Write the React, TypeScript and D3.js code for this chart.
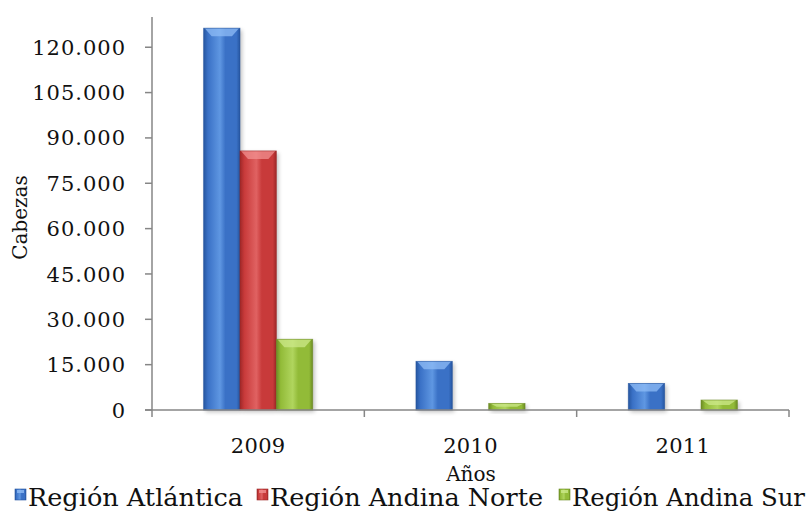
import React from "react";
import * as d3 from "d3";

const years = ["2009", "2010", "2011"];
const seriesNames = ["Región Atlántica", "Región Andina Norte", "Región Andina Sur"];
const atlantica = [126300, 16100, 8800];
const andinaNorte = [85700, 0, 0];
const andinaSur = [23400, 2200, 3300];
const yTicks = [0, 15000, 30000, 45000, 60000, 75000, 90000, 105000, 120000];

const seriesValues = [atlantica, andinaNorte, andinaSur];
const colors = [
  { dark: "#2656a0", mid: "#3a71c6", light: "#5f97e2", top: "#8fbcf5" },
  { dark: "#9e2828", mid: "#c83a3a", light: "#e06262", top: "#f29090" },
  { dark: "#6c8c24", mid: "#92bb38", light: "#b0d55e", top: "#cce88a" },
];

const W = 806;
const H = 519;
const left = 152;
const right = 789;
const top = 17;
const bottom = 410;
const FONT = "DejaVu Serif";

export default function App() {
  const x0 = d3.scaleBand<string>().domain(years).range([left, right]).padding(0);
  const x1 = d3
    .scaleBand<string>()
    .domain(seriesNames)
    .range([0, x0.bandwidth()])
    .paddingInner(0)
    .paddingOuter(1.42);
  const y = d3.scaleLinear().domain([0, 130000]).range([bottom, top]);
  const fmt = (v: number) => d3.format(",")(v).replace(/,/g, ".");
  const bw = x1.bandwidth();

  const legendItems = [
    { x: 15, len: 215 },
    { x: 257, len: 273 },
    { x: 559, len: 233 },
  ];

  return (
    <svg
      width={W}
      height={H}
      style={{ position: "absolute", left: 0, top: 0, background: "#fff" }}
      fontFamily={FONT}
    >
      <defs>
        {colors.map((c, i) => (
          <linearGradient key={i} id={`g${i}`} x1="0" x2="1" y1="0" y2="0">
            <stop offset="0" stopColor={c.dark} />
            <stop offset="0.12" stopColor={c.mid} />
            <stop offset="0.45" stopColor={c.light} />
            <stop offset="0.6" stopColor={c.mid} />
            <stop offset="0.9" stopColor={c.mid} />
            <stop offset="1" stopColor={c.dark} />
          </linearGradient>
        ))}
        <filter id="sh" x="-30%" y="-30%" width="160%" height="160%">
          <feGaussianBlur stdDeviation="2" />
        </filter>
      </defs>

      {/* y axis */}
      <line x1={left} x2={left} y1={top} y2={bottom} stroke="#868686" strokeWidth={1.5} />
      {yTicks.map((t) => (
        <g key={t}>
          <line x1={left - 7} x2={left} y1={y(t)} y2={y(t)} stroke="#868686" strokeWidth={1.5} />
          <text
            x={left - 26}
            y={y(t)}
            dy="0.36em"
            textAnchor="end"
            fontSize={21}
            letterSpacing={1}
            fill="#111"
          >
            {fmt(t)}
          </text>
        </g>
      ))}

      {/* bars */}
      {years.map((yr, yi) =>
        seriesNames.map((s, si) => {
          const v = seriesValues[si][yi];
          if (!v) return null;
          const bx = (x0(yr) as number) + (x1(s) as number);
          const by = y(v);
          const bh = bottom - by;
          const c = colors[si];
          const bev = Math.min(8, bh / 2);
          return (
            <g key={`${yr}-${s}`}>
              <rect x={bx + 2} y={by + 2} width={bw} height={bh} fill="#000" opacity={0.25} filter="url(#sh)" />
              <rect x={bx} y={by} width={bw} height={bh} fill={`url(#g${si})`} />
              <path
                d={`M${bx + 1},${by} L${bx + bw - 1},${by} L${bx + bw - 8},${by + bev} L${bx + 8},${by + bev} Z`}
                fill={c.top}
                opacity={0.75}
              />
              <rect x={bx} y={by} width={bw} height={bh} fill="none" stroke={c.dark} strokeWidth={0.8} opacity={0.7} />
            </g>
          );
        })
      )}

      {/* x axis */}
      <line x1={left - 7} x2={right} y1={bottom} y2={bottom} stroke="#868686" strokeWidth={1.5} />
      {[...years.map((yr) => x0(yr) as number), right].map((xx, i) => (
        <line key={i} x1={xx} x2={xx} y1={bottom} y2={bottom + 7} stroke="#868686" strokeWidth={1.5} />
      ))}
      {years.map((yr) => (
        <text
          key={yr}
          x={(x0(yr) as number) + x0.bandwidth() / 2}
          y={453}
          textAnchor="middle"
          fontSize={21}
          letterSpacing={0.3}
          fill="#111"
        >
          {yr}
        </text>
      ))}

      <text x={471} y={481} textAnchor="middle" fontSize={20} fill="#111">
        Años
      </text>
      <text
        transform={`translate(27,${(top + bottom) / 2 + 4}) rotate(-90)`}
        textAnchor="middle"
        fontSize={20}
        fill="#111"
      >
        Cabezas
      </text>

      {/* legend */}
      {legendItems.map((l, i) => (
        <g key={i}>
          <rect x={l.x} y={489} width={11} height={11} fill={`url(#g${i})`} stroke={colors[i].dark} strokeWidth={0.6} />
          <rect x={l.x + 2} y={490} width={7} height={3} fill={colors[i].top} opacity={0.8} />
          <text
            x={l.x + 13}
            y={506}
            fontSize={24}
            textLength={l.len}
            lengthAdjust="spacingAndGlyphs"
            fill="#111"
          >
            {seriesNames[i]}
          </text>
        </g>
      ))}
    </svg>
  );
}
